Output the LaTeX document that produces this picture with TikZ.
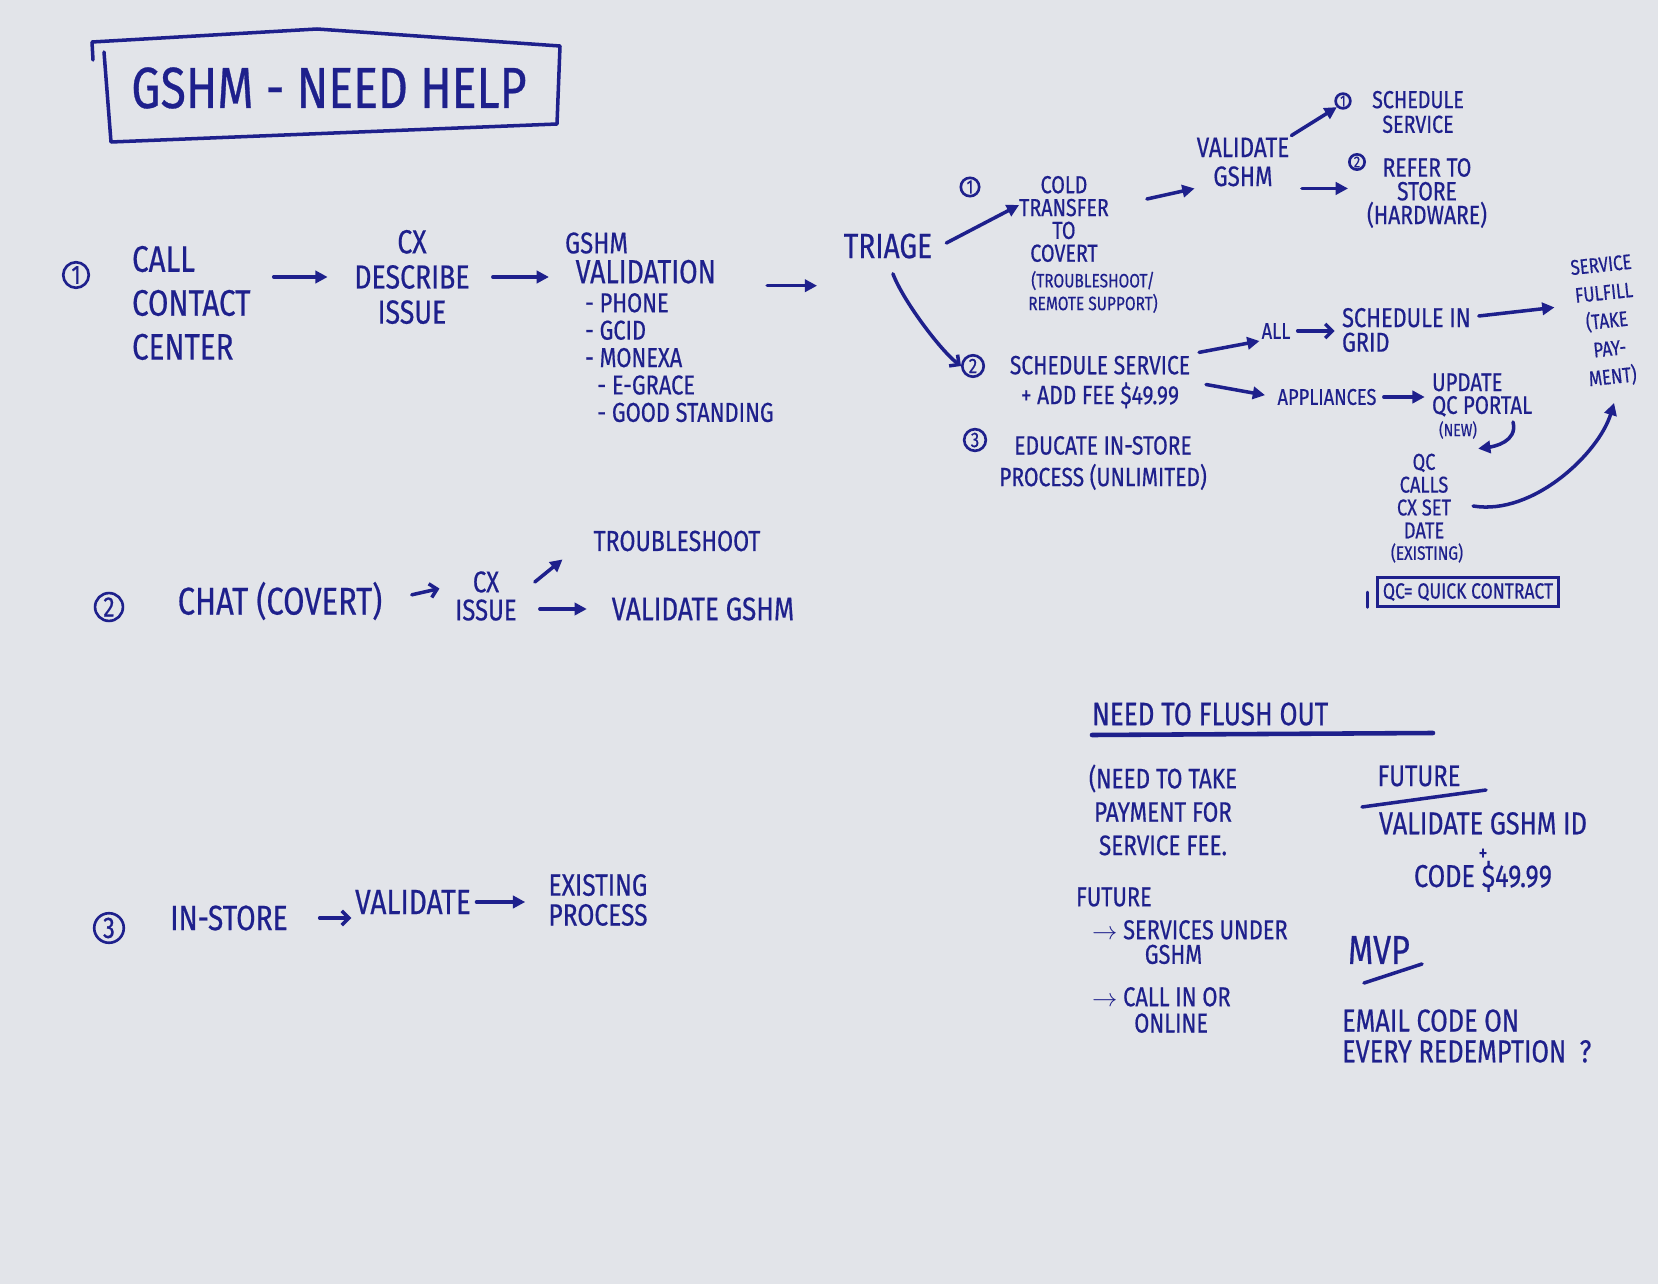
\documentclass[tikz,border=0pt]{standalone}
\usepackage{fontspec}
\setmainfont{Fira Sans}[FakeStretch=0.8, FakeBold=0.5]
\usetikzlibrary{arrows.meta}

\definecolor{ink}{RGB}{30,32,140}
\definecolor{board}{RGB}{226,228,233}
\newcommand{\fs}[2]{\fontsize{#1}{#2}\selectfont}

\tikzset{
  txt/.style={text=ink, align=center, inner sep=1pt},
  num/.style={circle, draw=ink, line width=1.5pt, text=ink, inner sep=1.2pt},
  pen/.style={draw=ink, line width=2pt, line cap=round, line join=round},
  arr/.style={pen, -{Triangle[length=7pt,width=7pt]}},
  varr/.style={pen, -{Straight Barb[length=4pt,width=8pt]}},
}

\begin{document}
\begin{tikzpicture}[x=0.02cm, y=-0.02cm]
    \fill[board] (0,0) rectangle (1658,1284);

    % title
    \draw[pen] (93,60) -- (92,42) -- (317,29) -- (560,46) -- (557,124) -- (111,142) -- (104,52);
    \node[txt, font=\fs{33}{36}] (title) at (329,88) {GSHM - NEED HELP};

    % 1 - call contact center
    \node[num, font=\fs{15}{15}] (n1) at (76,275) {1};
    \node[txt, align=left, anchor=west, font=\fs{21}{25}] (call) at (130,303) {CALL\\CONTACT\\CENTER};
    \node[txt, font=\fs{19}{20}] (desc) at (412,277) {CX\\DESCRIBE\\ISSUE};
    \node[txt, align=left, anchor=west, font=\fs{19}{17}] (gshm) at (563,258) {{\fs{17}{17}GSHM}\\\hspace*{6pt}VALIDATION};
    \node[txt, align=left, anchor=north west, font=\fs{15.5}{15.6}] (checks) at (583,291)
        {- PHONE\\- GCID\\- MONEXA\\\hspace*{7pt}- E-GRACE\\\hspace*{7pt}- GOOD STANDING};
    \node[txt, font=\fs{20}{20}] (triage) at (888,246) {TRIAGE};

    \node[num, font=\fs{11}{11}, inner sep=0.8pt] (n11) at (970,187) {1};
    \node[txt, font=\fs{14}{13}] (cold) at (1064,219) {COLD\\TRANSFER\\TO\\COVERT};
    \node[txt, font=\fs{11}{13}] (remote) at (1093,292) {(TROUBLESHOOT/\\REMOTE SUPPORT)};
    \node[txt, font=\fs{16}{16.5}] (valid) at (1243,162) {VALIDATE\\GSHM};
    \node[num, font=\fs{9}{9}, inner sep=0.6pt] (n111) at (1343,101) {1};
    \node[txt, font=\fs{14}{14}] (sched) at (1418,112) {SCHEDULE\\SERVICE};
    \node[num, font=\fs{9}{9}, inner sep=0.6pt] (n112) at (1357,162) {2};
    \node[txt, font=\fs{15}{13.5}] (refer) at (1427,193) {REFER TO\\STORE\\(HARDWARE)};

    \node[num, font=\fs{12}{12}, inner sep=1pt] (n12) at (973,366) {2};
    \node[txt, font=\fs{15}{17}] (fee) at (1100,382) {SCHEDULE SERVICE\\+ ADD FEE \$49.99};
    \node[num, font=\fs{12}{12}, inner sep=1pt] (n13) at (975,440) {3};
    \node[txt, font=\fs{15}{18}] (educ) at (1103,463) {EDUCATE IN-STORE\\PROCESS (UNLIMITED)};

    \node[txt, font=\fs{13}{13}] (all) at (1276,331) {ALL};
    \node[txt, align=left, anchor=west, font=\fs{15.5}{14}] (grid) at (1340,330) {SCHEDULE IN\\GRID};
    \node[txt, font=\fs{12}{16}, rotate=6] (fulfill) at (1607,322) {SERVICE\\FULFILL\\(TAKE\\PAY-\\MENT)};
    \node[txt, font=\fs{13}{13}] (appl) at (1327,397) {APPLIANCES};
    \node[txt, align=left, anchor=west, font=\fs{14.5}{13}] (upd) at (1430,395) {UPDATE\\QC PORTAL};
    \node[txt, font=\fs{10}{10}] (new) at (1458,430) {(NEW)};
    \node[txt, font=\fs{13}{13}] (qc) at (1424,496) {QC\\CALLS\\CX SET\\DATE};
    \node[txt, font=\fs{11}{11}] (exist) at (1427,553) {(EXISTING)};
    \node[txt, draw=ink, line width=1.6pt, inner sep=3pt, font=\fs{12.5}{12.5}] (qcdef) at (1468,592) {QC= QUICK CONTRACT};
    \draw[pen, line width=1.4pt] ([xshift=-5pt]qcdef.west) -- ([xshift=-5pt]qcdef.south west);

    % 2 - chat
    \node[num, font=\fs{16}{16}] (n2) at (109,607) {2};
    \node[txt, font=\fs{22}{22}] (chat) at (280,601) {CHAT (COVERT)};
    \node[txt, font=\fs{17}{16}] (issue) at (486,596) {CX\\ISSUE};
    \node[txt, font=\fs{16.5}{16}] (trbl) at (677,541) {TROUBLESHOOT};
    \node[txt, font=\fs{18.5}{18}] (valg) at (703,609) {VALIDATE GSHM};

    % 3 - in-store
    \node[num, font=\fs{17}{17}] (n3) at (109,928) {3};
    \node[txt, font=\fs{20}{20}] (instore) at (229,918) {IN-STORE};
    \node[txt, font=\fs{20}{20}] (val3) at (413,902) {VALIDATE};
    \node[txt, font=\fs{17.5}{17}] (proc) at (598,900) {EXISTING\\PROCESS};

    % notes
    \node[txt, anchor=west, font=\fs{18.5}{18}] (flush) at (1090,714) {NEED TO FLUSH OUT};
    \draw[pen, line width=2.6pt] (1092,735) -- (1433,733);
    \node[txt, font=\fs{16}{19}] (pay) at (1163,810) {(NEED TO TAKE\\PAYMENT FOR\\SERVICE FEE.};
    \node[txt, anchor=west, font=\fs{15.5}{15}] (fut1) at (1074,897) {FUTURE};
    \node[txt, align=left, anchor=north west, font=\fs{15.5}{14}] (svc) at (1090,918) {$\rightarrow$ SERVICES UNDER\\\hspace*{30pt}GSHM};
    \node[txt, align=left, anchor=north west, font=\fs{15.5}{15}] (callin) at (1090,985) {$\rightarrow$ CALL IN OR\\\hspace*{24pt}ONLINE};
    \node[txt, font=\fs{17}{16}] (fut2) at (1419,776) {FUTURE};
    \draw[pen] (1362,807) -- (1486,790);
    \node[txt, font=\fs{18}{15}] (code) at (1483,852) {VALIDATE GSHM ID\\{\fs{13}{13}+}\\CODE \$49.99};
    \node[txt, anchor=west, font=\fs{23}{24}] (mvp) at (1346,950) {MVP};
    \draw[pen] (1364,983) -- (1422,964);
    \node[txt, align=left, anchor=west, font=\fs{18}{17.5}] (email) at (1340,1036) {EMAIL CODE ON\\EVERY REDEMPTION\ \ ?};

    % arrows
    \draw[arr, shorten <=12pt, shorten >=14pt] (call.east |- desc.west) -- (desc.west);
    \draw[arr, shorten <=12pt, shorten >=8pt] (desc.east) -- (desc.east -| gshm.west);
    \draw[arr, shorten <=28pt, shorten >=14pt] (gshm.south east) -- (gshm.south east -| triage.west);
    \draw[arr] ([shift={(12,-3)}]triage.east) -- ([shift={(2,-14)}]cold.west);
    \draw[varr, shorten <=8pt] (triage.south) .. controls +(15,40) and +(-20,-15) .. (n12.west);
    \draw[arr] ([shift={(36,-20)}]cold.east) -- (valid.south west);
    \draw[arr] (valid.north east) -- (n111.south west);
    \draw[arr, shorten <=6pt] (valid.south east) -- (valid.south east -| n112.west);
    \draw[arr, shorten <=4pt] (fee.north east) -- (all.south west);
    \draw[arr, shorten <=8pt, shorten >=6pt] (fee.east) -- (appl.west);
    \draw[varr, shorten <=3pt, shorten >=3pt] (all.east) -- (all.east -| grid.west);
    \draw[arr] ([shift={(6,-14)}]grid.east) -- ([shift={(-20,-18)}]fulfill.west);
    \draw[arr, shorten <=3pt, shorten >=3pt] (appl.east) -- (appl.east -| upd.west);
    \draw[arr] ([shift={(34,-8)}]new.east) .. controls +(5,20) and +(15,-2) .. ([shift={(25,-3)}]qc.north east);
    \draw[arr] ([shift={(20,10)}]qc.east) .. controls +(60,10) and +(-15,50) .. ([shift={(0,14)}]fulfill.south);
    \draw[varr, shorten <=16pt, shorten >=8pt] (chat.east) -- ([yshift=6pt]issue.west);
    \draw[arr] ([shift={(16,-14)}]issue.east) -- ([shift={(-29,6)}]trbl.south west);
    \draw[arr, shorten <=12pt, shorten >=13pt] (issue.east |- valg.west) -- (valg.west);
    \draw[varr, shorten <=17pt, shorten >=1pt] (instore.east) -- (instore.east -| val3.west);
    \draw[arr, shorten <=2pt, shorten >=12pt] (val3.east) -- (val3.east -| proc.west);
\end{tikzpicture}
\end{document}
